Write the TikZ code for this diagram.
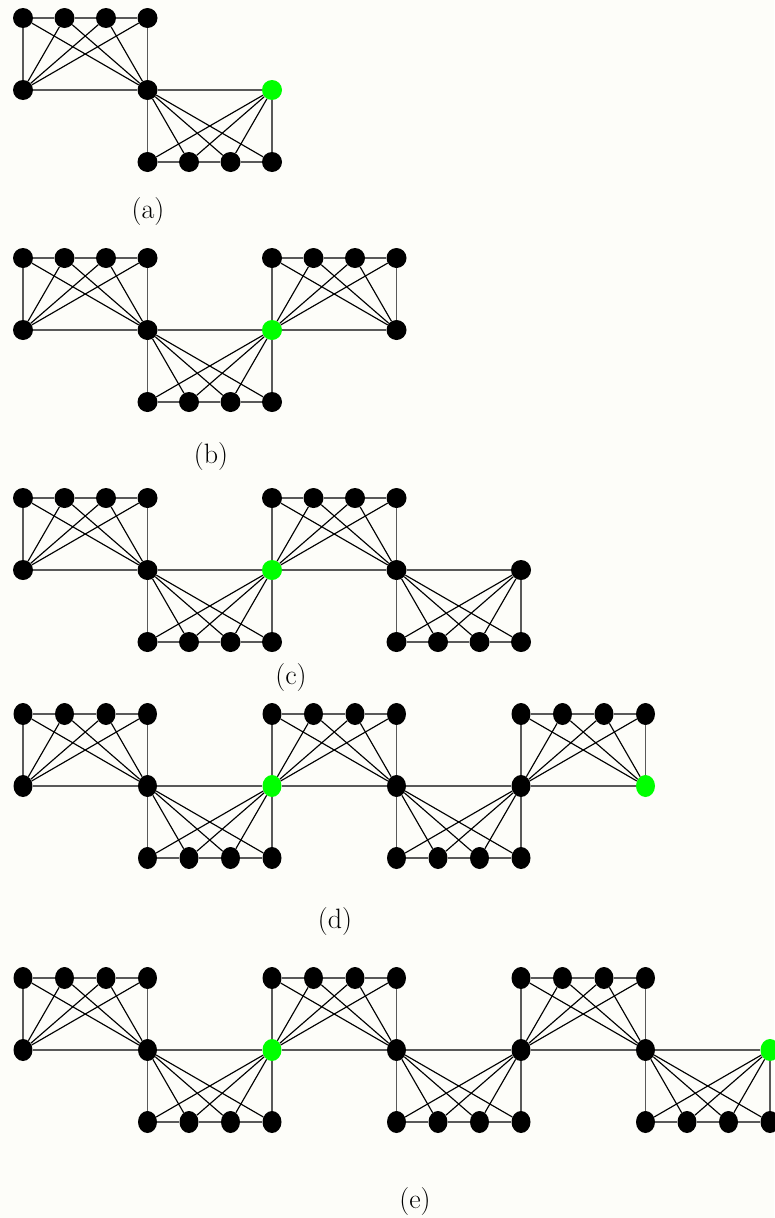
\documentclass[tikz,border=0pt]{standalone}
\usetikzlibrary{shapes.geometric}
\definecolor{hubgreen}{RGB}{0,255,0}
\definecolor{paper}{RGB}{253,253,249}
\tikzset{
  dot/.style={circle, fill=black, inner sep=0pt, minimum size=20pt},
  oval/.style={ellipse, fill=black, inner sep=0pt, minimum width=19pt, minimum height=22pt},
  straight/.style={draw=black!65, line width=1.2pt},
  diag/.style={draw=black, line width=1.15pt},
  caption/.style={font=\fontsize{28}{32}\selectfont, inner sep=0pt}
}
% hubs along the middle row: #1 prefix, #2 row y, #3 list index/colour, #4 node style
\newcommand\hubrow[4]{%
  \foreach \i/\c in {#3}
    \node[#4, fill=\c] (#1h\i) at ({23+124.5*\i}, #2) {};
}
% blocks between consecutive hubs, alternating above and below the hub row
% #1 prefix, #2 row y, #3 last block index, #4 node style
\newcommand\blocks[4]{%
  \foreach \k in {0,...,#3} {
    \pgfmathtruncatemacro\kn{\k+1}
    \pgfmathsetmacro\dy{mod(\k,2)==0 ? -72 : 72}
    \foreach \j in {0,...,3}
      \node[#4] (#1r\k-\j) at ({23+124.5*\k+41.5*\j}, {#2+\dy}) {};
    \draw[straight] (#1h\k) -- (#1h\kn);
    \draw[straight] (#1r\k-0) -- (#1r\k-1) -- (#1r\k-2) -- (#1r\k-3);
    \draw[straight] (#1h\k) -- (#1r\k-0);
    \draw[straight] (#1h\kn) -- (#1r\k-3);
    \foreach \j in {1,2,3}
      \draw[diag] (#1h\k) -- (#1r\k-\j);
    \foreach \j in {0,1,2}
      \draw[diag] (#1h\kn) -- (#1r\k-\j);
  }
}
\begin{document}
\begin{tikzpicture}[x=1pt, y=-1pt]
  \fill[paper] (0,0) rectangle (774,1218);
  \useasboundingbox (0,0) rectangle (774,1218);

  % (a)
  \hubrow{a}{90}{0/black,1/black,2/hubgreen}{dot}
  \blocks{a}{90}{1}{dot}
  \node[caption] (capa) at (148,212) {(a)};

  % (b)
  \hubrow{b}{330}{0/black,1/black,2/hubgreen,3/black}{dot}
  \blocks{b}{330}{2}{dot}
  \node[caption] (capb) at (211,457) {(b)};

  % (c)
  \hubrow{c}{570}{0/black,1/black,2/hubgreen,3/black,4/black}{dot}
  \blocks{c}{570}{3}{dot}
  \node[caption] (capc) at (291,678) {(c)};

  % (d)
  \hubrow{d}{786}{0/black,1/black,2/hubgreen,3/black,4/black,5/hubgreen}{oval}
  \blocks{d}{786}{4}{oval}
  \node[caption] (capd) at (335,922) {(d)};

  % (e)
  \hubrow{e}{1050}{0/black,1/black,2/hubgreen,3/black,4/black,5/black,6/hubgreen}{oval}
  \blocks{e}{1050}{5}{oval}
  \node[caption] (cape) at (415,1201) {(e)};
\end{tikzpicture}
\end{document}
